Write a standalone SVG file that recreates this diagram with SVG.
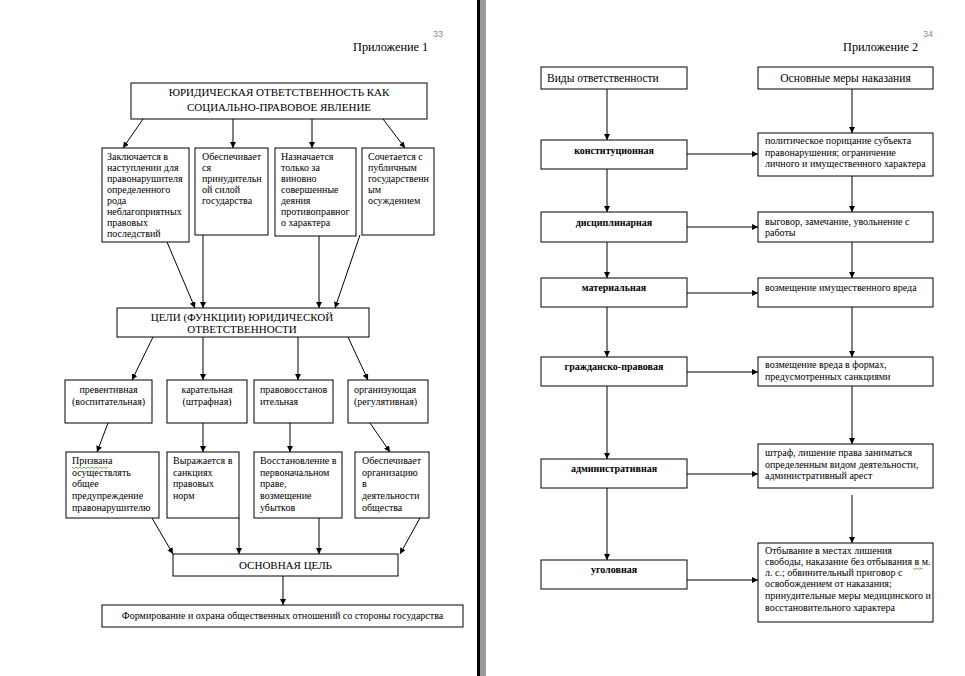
<svg xmlns="http://www.w3.org/2000/svg" width="965" height="676" viewBox="0 0 965 676">
<defs>
<marker id="ah" markerUnits="userSpaceOnUse" markerWidth="7" markerHeight="7" refX="6" refY="3" orient="auto">
<path d="M0,0 L6,3 L0,6 z" fill="#000"/>
</marker>
<style>
.box{fill:#fff;stroke:#000;stroke-width:1}
.t{font-family:"Liberation Serif","Times New Roman",serif;font-size:10px;fill:#000}
.h{font-family:"Liberation Serif","Times New Roman",serif;font-size:11px;fill:#000}
.ap{font-family:"Liberation Serif","Times New Roman",serif;font-size:12.3px;fill:#000}
.hd{font-family:"Liberation Serif","Times New Roman",serif;font-size:11.5px;fill:#000}
.s{font-family:"Liberation Serif","Times New Roman",serif;font-size:10px;fill:#000}
.b{font-family:"Liberation Serif","Times New Roman",serif;font-size:10px;font-weight:bold;fill:#000}
.pn{font-family:"Liberation Sans",Arial,sans-serif;font-size:9px;fill:#8a8a8a}
.c line{stroke:#000;stroke-width:1;marker-end:url(#ah)}
.m{text-anchor:middle}
.wavy{fill:none;stroke:#4a9a2a;stroke-width:0.8}
</style>
</defs>
<rect width="965" height="676" fill="#fff"/>
<!-- page divider -->
<rect x="477" y="0" width="3" height="676" fill="#000"/>
<rect x="480" y="0" width="6" height="676" fill="#9a9a9a"/>

<!-- LEFT PAGE -->
<text class="pn" x="433" y="37">33</text>
<text class="ap" x="353" y="51">Приложение 1</text>

<g class="c" id="connectors-left">
<line x1="143" y1="119" x2="123" y2="148"/>
<line x1="233" y1="119" x2="233" y2="148"/>
<line x1="312" y1="119" x2="312" y2="148"/>
<line x1="383" y1="119" x2="405" y2="148"/>
<line x1="167" y1="242" x2="195" y2="308"/>
<line x1="203" y1="235" x2="203" y2="308"/>
<line x1="319" y1="236" x2="319" y2="308"/>
<line x1="360" y1="235" x2="335" y2="308"/>
<line x1="153" y1="337" x2="132" y2="380"/>
<line x1="203" y1="337" x2="203" y2="380"/>
<line x1="298" y1="337" x2="298" y2="380"/>
<line x1="348" y1="337" x2="368" y2="380"/>
<line x1="108" y1="423" x2="97" y2="452"/>
<line x1="203" y1="423" x2="203" y2="452"/>
<line x1="290" y1="423" x2="290" y2="452"/>
<line x1="370" y1="423" x2="390" y2="452"/>
<line x1="152" y1="518" x2="173" y2="554"/>
<line x1="239" y1="518" x2="239" y2="554"/>
<line x1="319" y1="518" x2="319" y2="554"/>
<line x1="420" y1="518" x2="400" y2="554"/>
<line x1="283" y1="576" x2="283" y2="605"/>
</g>

<g id="n-title">
<rect class="box" x="131" y="83" width="296" height="36"/>
<text class="h m" x="279" y="96">ЮРИДИЧЕСКАЯ ОТВЕТСТВЕННОСТЬ КАК</text>
<text class="h m" x="279" y="111">СОЦИАЛЬНО-ПРАВОВОЕ ЯВЛЕНИЕ</text>
</g>

<g id="n-a1">
<rect class="box" x="102" y="148" width="87" height="94"/>
<text class="t" x="107" y="160">Заключается в</text>
<text class="t" x="107" y="171">наступлении для</text>
<text class="t" x="107" y="182">правонарушителя</text>
<text class="t" x="107" y="193">определенного</text>
<text class="t" x="107" y="204">рода</text>
<text class="t" x="107" y="215">неблагоприятных</text>
<text class="t" x="107" y="226">правовых</text>
<text class="t" x="107" y="237">последствий</text>
</g>
<g id="n-a2">
<rect class="box" x="195" y="148" width="73" height="87"/>
<text class="t" x="202" y="160">Обеспечивает</text>
<text class="t" x="202" y="171">ся</text>
<text class="t" x="202" y="182">принудительн</text>
<text class="t" x="202" y="193">ой силой</text>
<text class="t" x="202" y="204">государства</text>
</g>
<g id="n-a3">
<rect class="box" x="275" y="148" width="81" height="88"/>
<text class="t" x="281" y="160">Назначается</text>
<text class="t" x="281" y="171">только за</text>
<text class="t" x="281" y="182">виновно</text>
<text class="t" x="281" y="193">совершенные</text>
<text class="t" x="281" y="204">деяния</text>
<text class="t" x="281" y="215">противоправног</text>
<text class="t" x="281" y="226">о характера</text>
</g>
<g id="n-a4">
<rect class="box" x="362" y="148" width="72" height="87"/>
<text class="t" x="368" y="160">Сочетается с</text>
<text class="t" x="368" y="171">публичным</text>
<text class="t" x="368" y="182">государственн</text>
<text class="t" x="368" y="193">ым</text>
<text class="t" x="368" y="204">осуждением</text>
</g>

<g id="n-goals">
<rect class="box" x="117" y="308" width="252" height="29"/>
<text class="h m" x="242" y="321">ЦЕЛИ (ФУНКЦИИ) ЮРИДИЧЕСКОЙ</text>
<text class="h m" x="242" y="333">ОТВЕТСТВЕННОСТИ</text>
</g>

<g id="n-f1">
<rect class="box" x="65" y="380" width="87" height="43"/>
<text class="s m" x="108.5" y="393">превентивная</text>
<text class="s m" x="108.5" y="405">(воспитательная)</text>
</g>
<g id="n-f2">
<rect class="box" x="167" y="380" width="80" height="43"/>
<text class="s m" x="207" y="393">карательная</text>
<text class="s m" x="207" y="405">(штрафная)</text>
</g>
<g id="n-f3">
<rect class="box" x="254" y="380" width="79" height="43"/>
<text class="s" x="260" y="393">правовосстанов</text>
<text class="s" x="260" y="405">ительная</text>
</g>
<g id="n-f4">
<rect class="box" x="348" y="380" width="80" height="43"/>
<text class="s" x="354" y="393">организующая</text>
<text class="s" x="354" y="405">(регулятивная)</text>
</g>

<g id="n-d1">
<rect class="box" x="66" y="452" width="93" height="66"/>
<text class="t" x="72" y="464">Призвана</text>
<path class="wavy" d="M72,467 l2,1.5 l2,-1.5 l2,1.5 l2,-1.5 l2,1.5 l2,-1.5 l2,1.5 l2,-1.5 l2,1.5 l2,-1.5 l2,1.5 l2,-1.5 l2,1.5 l2,-1.5 l2,1.5 l2,-1.5 l2,1.5 l2,-1.5"/>
<text class="t" x="72" y="475.7">осуществлять</text>
<text class="t" x="72" y="487.4">общее</text>
<text class="t" x="72" y="499.1">предупреждение</text>
<text class="t" x="72" y="510.8">правонарушителю</text>
</g>
<g id="n-d2">
<rect class="box" x="167" y="452" width="72" height="66"/>
<text class="t" x="173" y="464">Выражается в</text>
<text class="t" x="173" y="475.7">санкциях</text>
<text class="t" x="173" y="487.4">правовых</text>
<text class="t" x="173" y="499.1">норм</text>
</g>
<g id="n-d3">
<rect class="box" x="254" y="452" width="88" height="66"/>
<text class="t" x="260" y="464">Восстановление в</text>
<text class="t" x="260" y="475.7">первоначальном</text>
<text class="t" x="260" y="487.4">праве,</text>
<text class="t" x="260" y="499.1">возмещение</text>
<text class="t" x="260" y="510.8">убытков</text>
</g>
<g id="n-d4">
<rect class="box" x="355" y="452" width="74" height="66"/>
<text class="t" x="362" y="464">Обеспечивает</text>
<text class="t" x="362" y="475.7">организацию</text>
<text class="t" x="362" y="487.4">в</text>
<text class="t" x="362" y="499.1">деятельности</text>
<text class="t" x="362" y="510.8">общества</text>
</g>

<g id="n-main">
<rect class="box" x="173" y="554" width="225" height="22"/>
<text class="h m" x="285.5" y="569">ОСНОВНАЯ ЦЕЛЬ</text>
</g>
<g id="n-form">
<rect class="box" x="102" y="605" width="361" height="22"/>
<text class="s m" x="282.5" y="619">Формирование и охрана общественных отношений со стороны государства</text>
</g>

<!-- RIGHT PAGE -->
<text class="pn" x="923" y="37">34</text>
<text class="ap" x="843" y="51">Приложение 2</text>

<g class="c" id="connectors-right">
<line x1="607" y1="89" x2="607" y2="140"/>
<line x1="607" y1="169" x2="607" y2="212"/>
<line x1="607" y1="242" x2="607" y2="278"/>
<line x1="607" y1="307" x2="607" y2="357"/>
<line x1="607" y1="386" x2="607" y2="459"/>
<line x1="607" y1="488" x2="607" y2="560"/>
<line x1="852" y1="89" x2="852" y2="133"/>
<line x1="852" y1="176" x2="852" y2="212"/>
<line x1="852" y1="242" x2="852" y2="278"/>
<line x1="852" y1="307" x2="852" y2="357"/>
<line x1="852" y1="386" x2="852" y2="444"/>
<line x1="852" y1="495" x2="852" y2="543"/>
<line x1="687" y1="154" x2="758" y2="154"/>
<line x1="687" y1="227" x2="758" y2="227"/>
<line x1="687" y1="293" x2="758" y2="293"/>
<line x1="687" y1="372" x2="758" y2="372"/>
<line x1="687" y1="474" x2="758" y2="474"/>
<line x1="687" y1="580" x2="758" y2="580"/>
</g>

<g id="n-kinds">
<rect class="box" x="541" y="67" width="146" height="22"/>
<text class="hd" x="547" y="82">Виды ответственности</text>
</g>
<g id="n-measures">
<rect class="box" x="758" y="67" width="175" height="22"/>
<text class="hd m" x="845.5" y="82">Основные меры наказания</text>
</g>

<g id="n-k1">
<rect class="box" x="541" y="140" width="146" height="29"/>
<text class="b m" x="614" y="154">конституционная</text>
</g>
<g id="n-k2">
<rect class="box" x="541" y="212" width="146" height="30"/>
<text class="b m" x="614" y="226">дисциплинарная</text>
</g>
<g id="n-k3">
<rect class="box" x="541" y="278" width="146" height="29"/>
<text class="b m" x="614" y="291">материальная</text>
</g>
<g id="n-k4">
<rect class="box" x="541" y="357" width="146" height="29"/>
<text class="b m" x="614" y="370">гражданско-правовая</text>
</g>
<g id="n-k5">
<rect class="box" x="541" y="459" width="146" height="29"/>
<text class="b m" x="614" y="472">административная</text>
</g>
<g id="n-k6">
<rect class="box" x="541" y="560" width="146" height="29"/>
<text class="b m" x="614" y="573">уголовная</text>
</g>

<g id="n-m1">
<rect class="box" x="758" y="133" width="175" height="43"/>
<text class="s" x="765" y="144">политическое порицание субъекта</text>
<text class="s" x="765" y="156">правонарушения; ограничение</text>
<text class="s" x="765" y="167">личного и имущественного характера</text>
</g>
<g id="n-m2">
<rect class="box" x="758" y="212" width="175" height="30"/>
<text class="s" x="765" y="225">выговор, замечание, увольнение с</text>
<text class="s" x="765" y="236">работы</text>
</g>
<g id="n-m3">
<rect class="box" x="758" y="278" width="175" height="29"/>
<text class="s" x="765" y="291">возмещение имущественного вреда</text>
</g>
<g id="n-m4">
<rect class="box" x="758" y="357" width="175" height="29"/>
<text class="s" x="765" y="368">возмещение вреда в формах,</text>
<text class="s" x="765" y="380">предусмотренных санкциями</text>
</g>
<g id="n-m5">
<rect class="box" x="758" y="444" width="175" height="44"/>
<text class="s" x="765" y="456">штраф, лишение права заниматься</text>
<text class="s" x="765" y="468">определенным видом деятельности,</text>
<text class="s" x="765" y="479">административный арест</text>
</g>
<g id="n-m6">
<rect class="box" x="758" y="543" width="175" height="79"/>
<text class="s" x="765" y="554">Отбывание в местах лишения</text>
<text class="s" x="765" y="565">свободы, наказание без отбывания в м.</text>
<path class="wavy" d="M913,568 l2,1.5 l2,-1.5 l2,1.5 l2,-1.5 l2,1.5"/>
<text class="s" x="765" y="576">л. с.; обвинительный приговор с</text>
<text class="s" x="765" y="587">освобождением от наказания;</text>
<text class="s" x="765" y="599">принудительные меры медицинского и</text>
<text class="s" x="765" y="611">восстановительного характера</text>
</g>
</svg>
